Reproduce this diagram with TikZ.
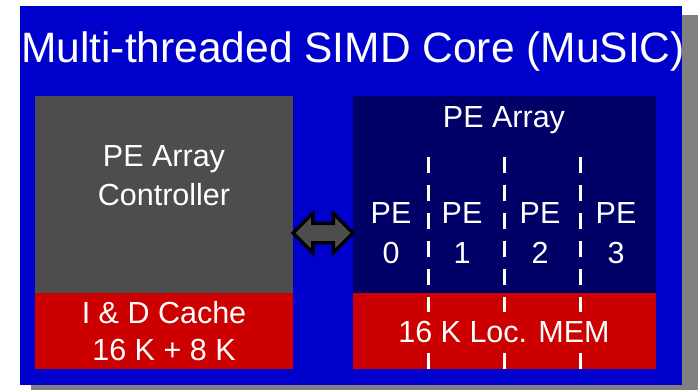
\documentclass[tikz,border=0pt]{standalone}
\usepackage{fontspec}
\setmainfont{Liberation Sans}
\usetikzlibrary{shapes.arrows}
\definecolor{musicBlue}{HTML}{0000CC}
\definecolor{musicNavy}{HTML}{000066}
\definecolor{musicGrey}{HTML}{4D4D4D}
\definecolor{musicRed}{HTML}{CC0000}
\definecolor{musicShadow}{HTML}{808080}
\tikzset{
  blk/.style={inner sep=0pt,outer sep=0pt},
  lbl/.style={white,font=\fontsize{30.5}{39}\selectfont,align=center,inner sep=0pt},
}

\begin{document}
\begin{tikzpicture}[x=1pt,y=-1pt]
    \useasboundingbox (0,0) rectangle (698,390);
    \fill[musicShadow] (31,15) rectangle (698,390);
    \fill[musicBlue] (20,6) rectangle (682,385);
    \node[white,anchor=base west,inner sep=0pt,font=\fontsize{42.5}{50}\selectfont] (title) at (21,63) {Multi-threaded SIMD Core (MuSIC)};
    \node[blk,fill=musicGrey,minimum width=258,minimum height=197] (ctrl) at (164,194.5) {};
    \node[blk,fill=musicRed,minimum width=258,minimum height=76] (cache) at (164,331) {};
    \node[blk,fill=musicNavy,minimum width=303,minimum height=197] (array) at (504.5,194.5) {};
    \node[blk,fill=musicRed,minimum width=303,minimum height=76] (locmem) at (504.5,331) {};
    \node[lbl,anchor=base] (ctrltext) at (164,205) {PE Array\\Controller};
    \node[lbl,anchor=base,font=\fontsize{30.5}{37}\selectfont] (cachetext) at (164,360) {I \& D Cache\\16 K + 8 K};
    \node[lbl,anchor=base] (arraytext) at (504,128) {PE Array};
    \foreach \i/\x in {0/391,1/462,2/540,3/616}{\node[lbl,anchor=base,font=\fontsize{30.5}{40}\selectfont] (pe\i) at (\x,263) {PE\\\i};}
    \foreach \x in {428,504,580}{\draw[white,line width=3pt,dash pattern=on 16pt off 12pt] (\x,157) -- (\x,369);}
    \node[lbl,fill=musicRed,inner xsep=4pt,inner ysep=9pt,anchor=base] (memtext) at (504,342) {16 K Loc. MEM};
    \node[double arrow,draw=black,line width=3.5pt,fill=musicGrey,minimum height=60pt,double arrow head extend=10pt,inner xsep=0pt,inner ysep=8pt] (link) at (323,233) {};
  \end{tikzpicture}
\end{document}
